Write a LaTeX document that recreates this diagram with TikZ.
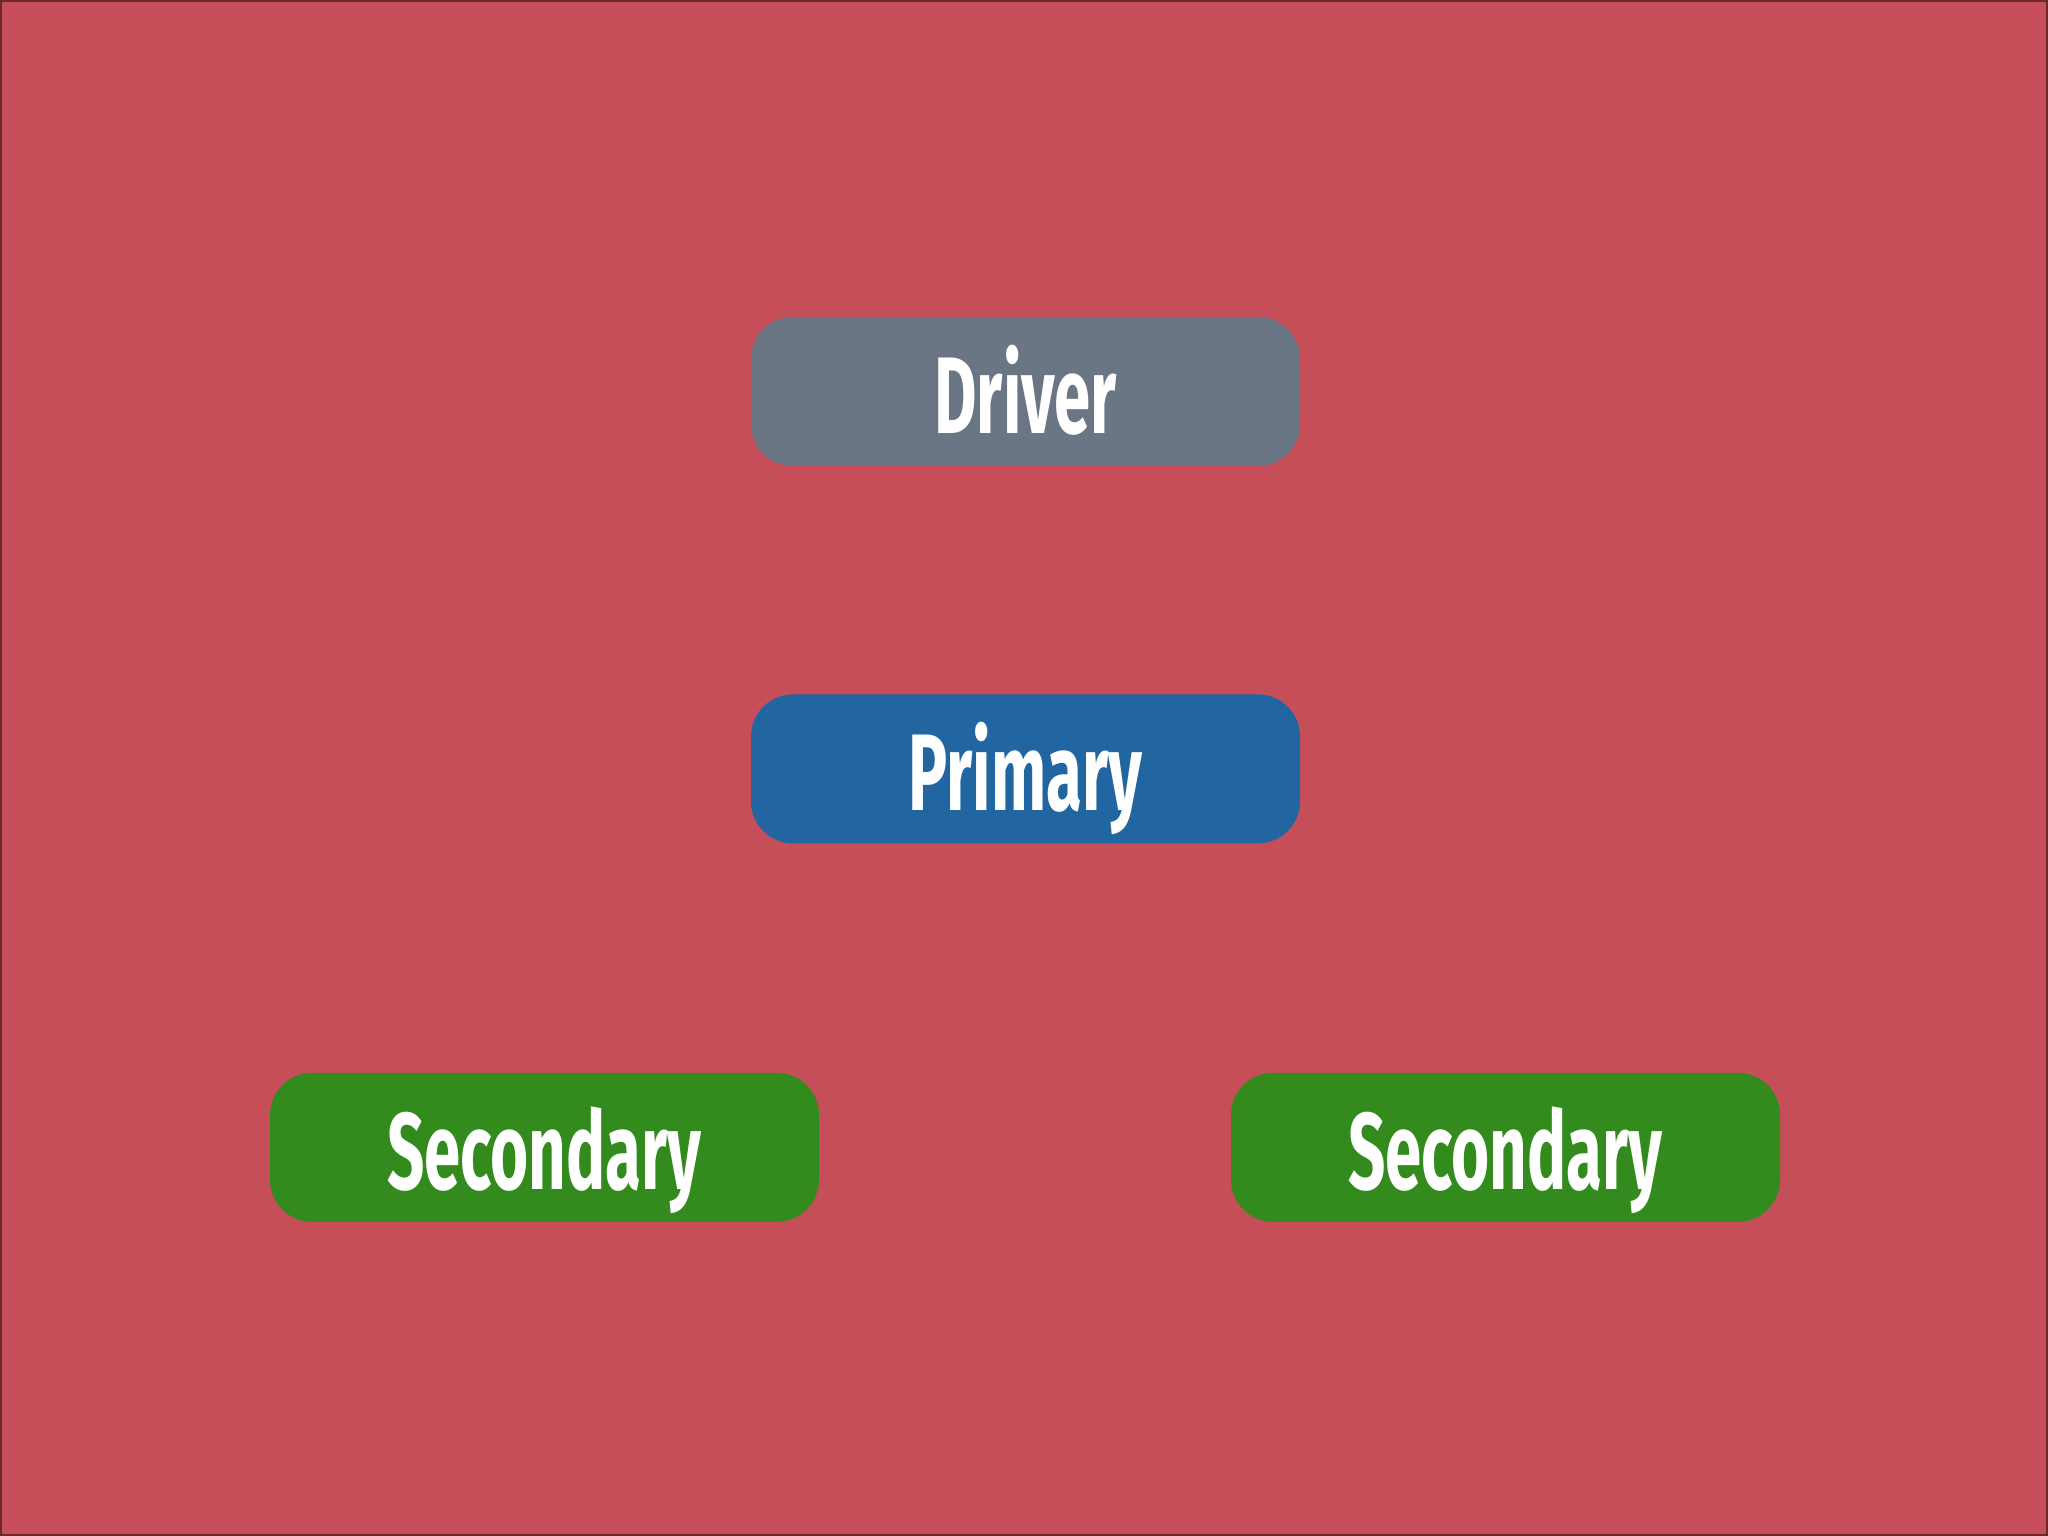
\documentclass[tikz,border=0pt]{standalone}
\usepackage{fontspec}
\setmainfont{Fira Sans}[FakeStretch=0.6]
\usepackage{tikz}
\usetikzlibrary{positioning}
\definecolor{slidered}{RGB}{198,78,88}
\definecolor{slideedge}{RGB}{110,40,45}
\definecolor{drivergray}{RGB}{106,118,132}
\definecolor{primaryblue}{RGB}{33,102,160}
\definecolor{secondgreen}{RGB}{51,138,29}
\tikzstyle{role} = [rectangle, rounded corners=0.42cm, minimum width=5.49cm, minimum height=1.49cm, inner sep=0pt, text height=0.84cm, text depth=0pt, text=white, font=\fontsize{31}{31}\selectfont\bfseries]

\begin{document}
\begin{tikzpicture}[node distance=2.27cm]
\useasboundingbox (0,0) rectangle (20.48,-15.36);
\fill[slidered] (0,0) rectangle (20.48,-15.36);
\draw[slideedge, line width=0.6pt] (0.01,-0.01) rectangle (20.47,-15.35);

\node (driver) [role, fill=drivergray] at (10.255,-3.915) {Driver};
\node (primary) [role, fill=primaryblue, below=of driver] {Primary};
\node (secleft) [role, fill=secondgreen, below=2.28cm of primary, xshift=-4.81cm] {Secondary};
\node (secright) [role, fill=secondgreen, below=2.28cm of primary, xshift=4.80cm] {Secondary};
\end{tikzpicture}
\end{document}
